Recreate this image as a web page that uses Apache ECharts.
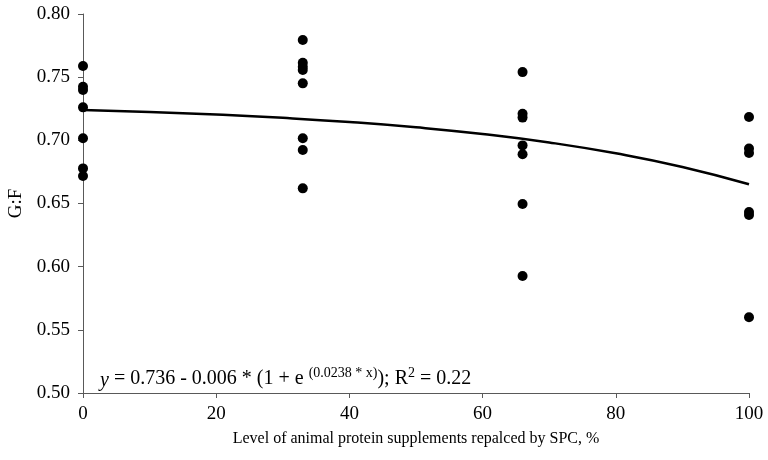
<!DOCTYPE html>
<html>
<head>
<meta charset="utf-8">
<script src="https://cdn.jsdelivr.net/npm/echarts@6/dist/echarts.min.js"></script>
<style>html,body{margin:0;padding:0;background:#fff}#c{width:768px;height:460px}</style>
</head>
<body>
<div id="c"></div>
<script>
// Observed G:F values per replacement level
const level0 = [0.7588, 0.7424, 0.7398, 0.7261, 0.7016, 0.6778, 0.6717];
const level33 = [0.7794, 0.7614, 0.7583, 0.7557, 0.7451, 0.7016, 0.6923, 0.6620];
const level66 = [0.7540, 0.7210, 0.7180, 0.6960, 0.6890, 0.6496, 0.5926];
const level100 = [0.7184, 0.6935, 0.6900, 0.6432, 0.6409, 0.5600];
const levels = [0, 33, 66, 100];
// Fitted curve
const curveX = [0, 10, 20, 30, 40, 50, 60, 70, 80, 90, 100];
const curveY = [0.7240, 0.7224, 0.7204, 0.7178, 0.7145, 0.7103, 0.7050, 0.6983, 0.6897, 0.6789, 0.6652];
const xTicks = [0, 20, 40, 60, 80, 100];
const yTicks = [0.50, 0.55, 0.60, 0.65, 0.70, 0.75, 0.80];

const groups = [level0, level33, level66, level100];
const pts = [];
groups.forEach((g, i) => g.forEach(v => pts.push([levels[i], v])));
const curve = curveX.map((x, i) => [x, curveY[i]]);

const chart = echarts.init(document.getElementById('c'));
const FONT = 'Liberation Serif';
const axisCol = '#595959';
chart.setOption({
  animation: false,
  grid: {left: 83, right: 19, top: 14, bottom: 67, containLabel: false, outerBoundsMode: 'none'},
  xAxis: {
    type: 'value', min: 0, max: 100, interval: 20,
    name: 'Level of animal protein supplements repalced by SPC, %',
    nameLocation: 'middle', nameGap: 38,
    nameTextStyle: {fontFamily: FONT, fontSize: 16, color: '#000'},
    axisLine: {show: true, lineStyle: {color: axisCol, width: 1}},
    axisTick: {show: true, length: 5, lineStyle: {color: axisCol}},
    axisLabel: {fontFamily: FONT, fontSize: 19, color: '#000', margin: 12,
      formatter: v => xTicks.includes(v) ? String(v) : ''},
    splitLine: {show: false}
  },
  yAxis: {
    type: 'value', min: 0.5, max: 0.8, interval: 0.05,
    name: 'G:F', nameLocation: 'middle', nameGap: 49,
    nameTextStyle: {fontFamily: FONT, fontSize: 19, color: '#000'},
    axisLine: {show: true, lineStyle: {color: axisCol, width: 1}},
    axisTick: {show: true, length: 5, lineStyle: {color: axisCol}},
    axisLabel: {fontFamily: FONT, fontSize: 19, color: '#000', margin: 13,
      formatter: v => { const t = yTicks.find(k => Math.abs(k - v) < 1e-6); return t !== undefined ? t.toFixed(2) : ''; }},
    splitLine: {show: false}
  },
  series: [
    {type: 'line', data: curve, smooth: true, showSymbol: false, symbol: 'none',
     lineStyle: {color: '#000', width: 2.5}, z: 2},
    {type: 'scatter', data: pts, symbol: 'circle', symbolSize: 10,
     itemStyle: {color: '#000', opacity: 1}, z: 3}
  ],
  graphic: [{
    type: 'text', left: 100, top: 366,
    style: {
      text: '{i|y} = 0.736 - 0.006 * (1 + e {s|(0.0238 * x)}); R{s|2} = 0.22',
      font: '20px "Liberation Serif"', fill: '#000',
      rich: {
        i: {fontFamily: FONT, fontSize: 20, fontStyle: 'italic', fill: '#000', lineHeight: 25, verticalAlign: 'bottom'},
        s: {fontFamily: FONT, fontSize: 14, fill: '#000', lineHeight: 25, verticalAlign: 'top', padding: [0,0,7,0]}
      }
    }
  }]
});
</script>
</body>
</html>
